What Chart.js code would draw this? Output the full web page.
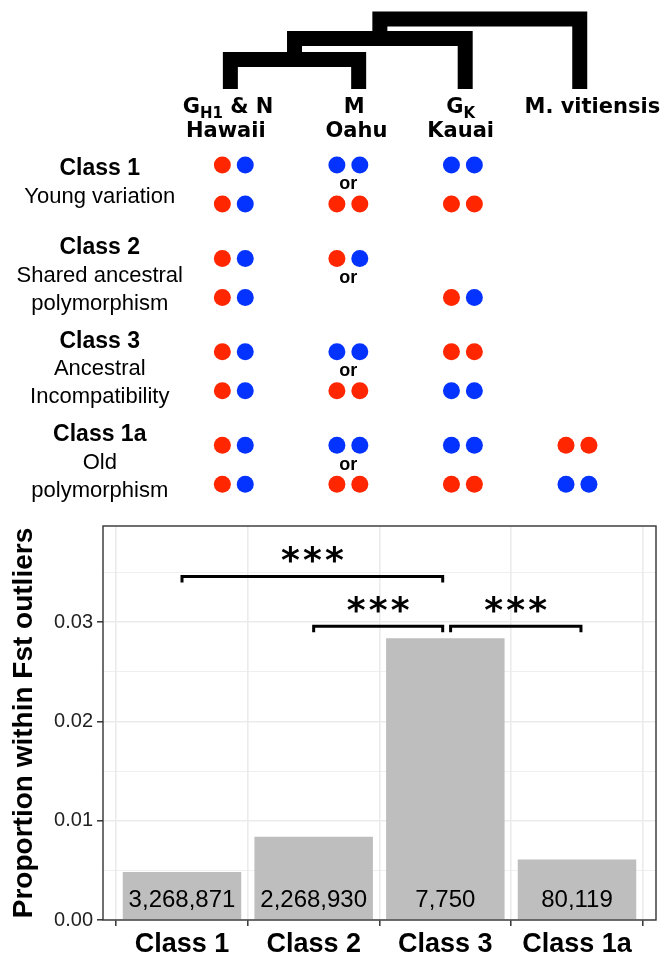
<!DOCTYPE html>
<html>
<head>
<meta charset="utf-8">
<script src="https://cdn.jsdelivr.net/npm/chart.js@4.4.1/dist/chart.umd.min.js"></script>
<style>
  html, body { margin: 0; padding: 0; background: #fff; }
  #top { position: absolute; left: 0; top: 0; width: 669px; height: 510px; }
  #bottom { position: absolute; left: 0; top: 510px; width: 669px; height: 447px; }
</style>
</head>
<body>
<div id="top"><canvas id="tree"></canvas></div>
<div id="bottom"><canvas id="bars"></canvas></div>
<script>
// ---- schematic data ----
const populations = ["Hawaii", "Oahu", "Kauai", "M. vitiensis"];
const classTitles = ["Class 1", "Class 2", "Class 3", "Class 1a"];
const classSubtitles = [["Young variation"], ["Shared ancestral", "polymorphism"], ["Ancestral", "Incompatibility"], ["Old", "polymorphism"]];
// genotypes, [upper row, lower row], one per population: R = red allele, B = blue allele
const class1Geno = [["RB", "BB", "BB", ""], ["RB", "RR", "RR", ""]];
const class2Geno = [["RB", "RB", "", ""], ["RB", "", "RB", ""]];
const class3Geno = [["RB", "BB", "RR", ""], ["RB", "RR", "BB", ""]];
const class1aGeno = [["RB", "BB", "BB", "RR"], ["RB", "RR", "RR", "BB"]];
const genotypes = [class1Geno, class2Geno, class3Geno, class1aGeno];

// ---- bar chart data ----
const classes = ["Class 1", "Class 2", "Class 3", "Class 1a"];
const proportions = [0.00483, 0.0084, 0.0284, 0.0061];
const counts = ["3,268,871", "2,268,930", "7,750", "80,119"];
const sigPairs = [[1, 2.98], [2, 2.98], [3.04, 4.03]];
const sigHeights = [0.0346, 0.0296, 0.0296];
const sigLabels = ["***", "***", "***"];

const RED = "#ff2600", BLUE = "#0433ff";
const FONT = '"Liberation Sans", Arial, Helvetica, sans-serif';
const HFONT = '"DejaVu Sans", sans-serif';
const ROW_GAP = 0.4175;      // upper to lower genotype row, in class units
const LABEL_COL = -0.17;     // x of the class descriptions
const LEAF_X = [0.97, 2.09, 3.02, 4.02];
const LEAF_Y = -0.814, NODE_Y = [-1.13, -1.354, -1.563];

// tree: ((Hawaii, Oahu), Kauai), M. vitiensis
function bracket(x1, y1, x2, y2, h) {
  return {
    type: "line", showLine: true, data: [{x: x1, y: y1}, {x: x1, y: h}, {x: x2, y: h}, {x: x2, y: y2}],
    borderColor: "#000", borderWidth: 15, pointRadius: 0, borderJoinStyle: "miter", borderCapStyle: "butt"
  };
}
const nodeA = (LEAF_X[0] + LEAF_X[1]) / 2, nodeB = (nodeA + LEAF_X[2]) / 2;
const treeSets = [
  bracket(LEAF_X[0], LEAF_Y, LEAF_X[1], LEAF_Y, NODE_Y[0]),
  bracket(nodeA, NODE_Y[0], LEAF_X[2], LEAF_Y, NODE_Y[1]),
  bracket(nodeB, NODE_Y[1], LEAF_X[3], LEAF_Y, NODE_Y[2])
];

const redPts = [], bluePts = [];
genotypes.forEach((g, k) => {
  g.forEach((row, r) => {
    row.forEach((s, p) => {
      [...s].forEach((a, j) => {
        const pt = {x: p + 1 + (j === 0 ? -0.1 : 0.1), y: k + r * ROW_GAP};
        (a === "R" ? redPts : bluePts).push(pt);
      });
    });
  });
});

const schemeText = {
  id: "schemeText",
  afterDatasetsDraw(chart) {
    const {ctx, scales: {x, y}} = chart;
    ctx.save();
    ctx.fillStyle = "#000";
    ctx.textAlign = "center";
    ctx.textBaseline = "middle";
    classTitles.forEach((t, k) => {
      const lines = [t].concat(classSubtitles[k]);
      const mid = y.getPixelForValue(k + ROW_GAP / 2);
      lines.forEach((s, i) => {
        ctx.font = (i === 0 ? "bold 23px " : "22px ") + FONT;
        ctx.fillText(s, x.getPixelForValue(LABEL_COL), mid - 2 + (i - (lines.length - 1) / 2) * 28);
      });
      ctx.font = "bold 18px " + FONT;
      ctx.fillText("or", x.getPixelForValue(2), mid);
    });
    // column headers
    ctx.textBaseline = "alphabetic";
    const y1 = y.getPixelForValue(-0.557), y2 = y.getPixelForValue(-0.3);
    const big = "bold 21px " + HFONT, small = "bold 15px " + HFONT;
    function header(parts, col) {
      let w = 0;
      parts.forEach(p => { ctx.font = p[1] ? small : big; w += ctx.measureText(p[0]).width; });
      let cx = x.getPixelForValue(col) - w / 2;
      ctx.textAlign = "left";
      parts.forEach(p => {
        ctx.font = p[1] ? small : big;
        ctx.fillText(p[0], cx, y1 + (p[1] ? 5 : 0));
        cx += ctx.measureText(p[0]).width;
      });
    }
    header([["G"], ["H1", 1], [" & N"]], 0.95);
    header([["M"]], 2.05);
    header([["G"], ["K", 1]], 2.98);
    header([[populations[3]]], 4.13);
    ctx.textAlign = "center";
    ctx.font = big;
    ctx.fillText(populations[0], x.getPixelForValue(0.93), y2);
    ctx.fillText(populations[1], x.getPixelForValue(2.07), y2);
    ctx.fillText(populations[2], x.getPixelForValue(2.98), y2);
    ctx.restore();
  }
};

new Chart(document.getElementById("tree"), {
  type: "scatter",
  data: {
    datasets: treeSets.concat([
      {data: redPts, pointRadius: 8.5, pointBackgroundColor: RED, pointBorderWidth: 0},
      {data: bluePts, pointRadius: 8.5, pointBackgroundColor: BLUE, pointBorderWidth: 0}
    ])
  },
  options: {
    responsive: true, maintainAspectRatio: false, animation: false, events: [],
    layout: {padding: 0, autoPadding: false},
    plugins: {legend: {display: false}, tooltip: {enabled: false}},
    scales: {
      x: {type: "linear", display: false, min: -1.0411, max: 4.7992},
      y: {type: "linear", display: false, min: -1.7666, max: 3.6938, reverse: true}
    }
  },
  plugins: [schemeText]
});

// ---- bar chart ----
const barText = {
  id: "barText",
  afterDatasetsDraw(chart) {
    const {ctx, scales: {x, y}} = chart;
    ctx.save();
    ctx.fillStyle = "#000";
    ctx.textAlign = "center";
    ctx.textBaseline = "alphabetic";
    ctx.font = "24px " + FONT;
    counts.forEach((c, i) => ctx.fillText(c, x.getPixelForValue(i + 1), y.getPixelForValue(0) - 13));
    ctx.font = 'bold 36px "DejaVu Sans", sans-serif';
    const m = ctx.measureText("*");
    const shift = (m.actualBoundingBoxAscent - m.actualBoundingBoxDescent) / 2;
    sigPairs.forEach((p, i) => {
      const cx = x.getPixelForValue((p[0] + p[1]) / 2);
      const cy = y.getPixelForValue(sigHeights[i] + 0.0022);
      [...sigLabels[i]].forEach((s, j) => ctx.fillText(s, cx + (j - 1) * 22, cy + shift));
    });
    const a = chart.chartArea;
    ctx.strokeStyle = "#333";
    ctx.lineWidth = 1.4;
    ctx.strokeRect(a.left, a.top, a.right - a.left, a.bottom - a.top);
    ctx.restore();
  }
};

const sigSets = sigPairs.map((p, i) => ({
  type: "line",
  data: [{x: p[0], y: sigHeights[i] - 0.0006}, {x: p[0], y: sigHeights[i]}, {x: p[1], y: sigHeights[i]}, {x: p[1], y: sigHeights[i] - 0.0006}],
  borderColor: "#000", borderWidth: 3, pointRadius: 0, borderJoinStyle: "miter", order: 0
}));

new Chart(document.getElementById("bars"), {
  type: "bar",
  data: {
    datasets: [{
      data: classes.map((c, i) => ({x: i + 1, y: proportions[i]})),
      backgroundColor: "#bebebe", borderWidth: 0, categoryPercentage: 0.9, barPercentage: 1, order: 1
    }].concat(sigSets)
  },
  options: {
    responsive: true, maintainAspectRatio: false, animation: false, events: [],
    layout: {padding: {top: 13, right: 13, left: 0, bottom: 0}, autoPadding: false},
    plugins: {legend: {display: false}, tooltip: {enabled: false}},
    scales: {
      x: {
        type: "linear", min: 0.4, max: 4.6, offset: false,
        afterBuildTicks: (axis) => { axis.ticks = classes.map((c, i) => ({value: i + 1})); },
        afterFit: (axis) => { axis.height = 37; },
        border: {display: false},
        grid: {color: "#ebebeb", lineWidth: 1.6, tickColor: "#333", tickLength: 6, tickWidth: 1.5},
        ticks: {
          padding: 2, color: "#000", font: {family: FONT, size: 27, weight: "bold"},
          maxRotation: 0, autoSkip: false,
          callback: (v) => classes[Math.round(v) - 1]
        }
      },
      y: {
        min: 0, max: 0.0397,
        afterBuildTicks: (axis) => { axis.ticks = [0, 1, 2, 3, 4, 5, 6, 7].map(i => ({value: i * 0.005})); },
        afterFit: (axis) => { axis.width = 103; },
        border: {display: false},
        grid: {
          color: "#ebebeb",
          lineWidth: (ctx) => (ctx.index % 2 === 0 ? 1.6 : 0.8),
          tickColor: (ctx) => (ctx.index % 2 === 0 ? "#333" : "rgba(0,0,0,0)"),
          tickLength: 6, tickWidth: 1.5
        },
        ticks: {
          padding: 4, color: "#222", font: {family: FONT, size: 20},
          callback: (v, i) => (i % 2 === 0 ? v.toFixed(2) : "")
        },
        title: {
          display: true, text: "Proportion within Fst outliers", color: "#000",
          font: {family: FONT, size: 28, weight: "bold"}, padding: {top: 7, bottom: 0}
        }
      }
    }
  },
  plugins: [barText]
});
</script>
</body>
</html>
